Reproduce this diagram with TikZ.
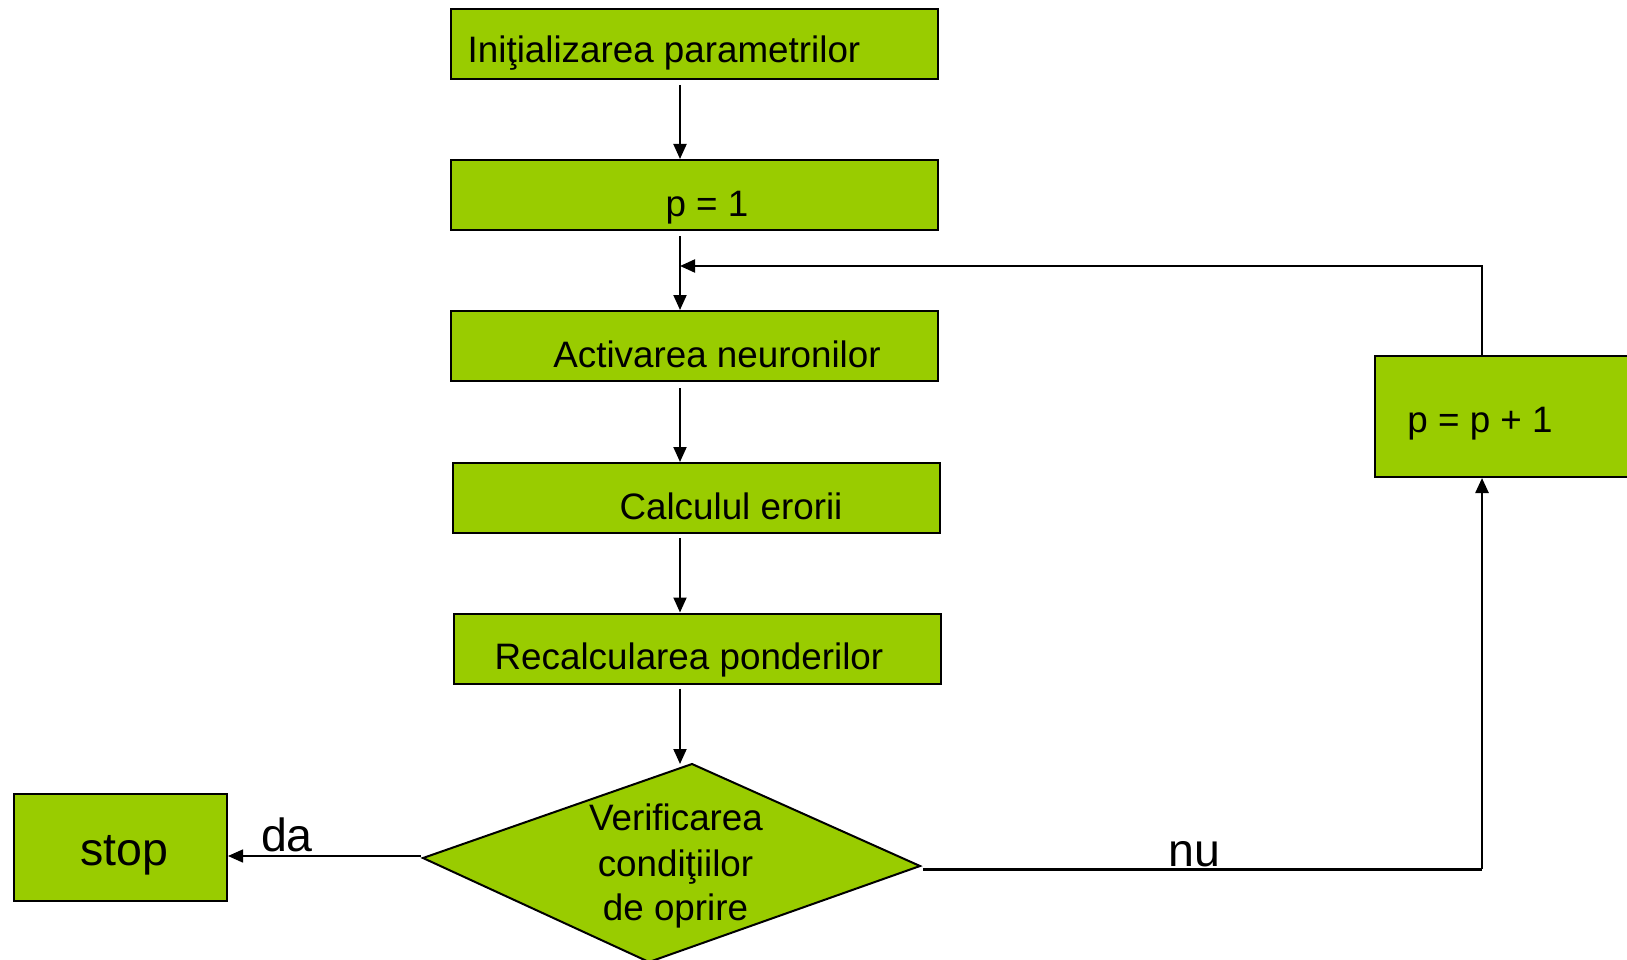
\documentclass[tikz,border=0pt]{standalone}
\usepackage{fontspec}
\setmainfont{Liberation Sans}
\usetikzlibrary{arrows.meta,calc}
\definecolor{boxgreen}{HTML}{99CC00}
\begin{document}
\begin{tikzpicture}[x=1pt,y=-1pt,
  box/.style={draw=black, line width=2pt, fill=boxgreen, rectangle, inner sep=0pt},
  flowbox/.style={box, minimum width=487pt, minimum height=70pt},
  txt/.style={anchor=base, inner sep=0pt, font=\fontsize{36.8}{44}\selectfont},
  bigtxt/.style={anchor=base, inner sep=0pt, font=\fontsize{46.5}{50}\selectfont},
  arr/.style={line width=2pt, -{Triangle[length=15pt,width=13pt]}}]
\useasboundingbox (0,0) rectangle (1627,960);
\clip (0,0) rectangle (1627,960);
\fill[white] (0,0) rectangle (1627,960);

% main column boxes
\node[flowbox] (b1) at (694.5,44) {};
\node[flowbox] (b2) at (694.5,195) {};
\node[flowbox] (b3) at (694,346) {};
\node[flowbox] (b4) at (696,498) {};
\node[flowbox] (b5) at (697.5,648.5) {};

\node[txt] (t1) at (664,63) {Iniţializarea parametrilor};
\node[txt] (t2) at (707,217) {p = 1};
\node[txt] (t3) at (717,367) {Activarea neuronilor};
\node[txt] (t4) at (731,519) {Calculul erorii};
\node[txt] (t5) at (689,669) {Recalcularea ponderilor};

% decision (skewed diamond)
\coordinate (dT) at (692,764);
\coordinate (dR) at (920,866);
\coordinate (dB) at (649,962);
\coordinate (dL) at (423,858);
\draw[line width=2pt, fill=boxgreen, line join=miter] (dT) -- (dR) -- (dB) -- (dL) -- cycle;
\node[txt] (d1) at (676,830) {Verificarea};
\node[txt] (d2) at (675.5,876) {condiţiilor};
\node[txt] (d3) at (675.5,920) {de oprire};

% side boxes
\node[box, minimum width=300pt, minimum height=121pt] (pp) at (1525,416.5) {};
\node[txt] (ppt) at (1480,432) {p = p + 1};
\node[box, minimum width=213pt, minimum height=107pt] (stop) at (120.5,847.5) {};
\node[bigtxt] (stopt) at (124,865) {stop};

% connectors
\coordinate (ax) at (680,0);
\draw[arr, shorten <=5pt] (b1.south -| ax) -- (b2.north -| ax);
\draw[arr, shorten <=5pt] (b2.south -| ax) -- (b3.north -| ax);
\draw[arr, shorten <=6pt] (b3.south -| ax) -- (b4.north -| ax);
\draw[arr, shorten <=4pt] (b4.south -| ax) -- (b5.north -| ax);
\draw[arr, shorten <=4pt] (b5.south -| ax) -- (ax |- dT);

\coordinate (fb) at (1482,266);
\draw[arr, line join=miter] (pp.north -| fb) -- (fb) -- (fb -| ax);

\coordinate (nuS) at (923,869);
\draw[line width=3pt] (nuS) -- (nuS -| fb);
\draw[arr, line width=2.5pt] (nuS -| fb) -- (pp.south -| fb);
\node[bigtxt] (nu) at (1194,866) {nu};

\coordinate (daS) at (421,856);
\draw[arr, line width=1.5pt] (daS) -- (stop.east |- daS);
\node[bigtxt] (da) at (287,851) {da};
\end{tikzpicture}
\end{document}
